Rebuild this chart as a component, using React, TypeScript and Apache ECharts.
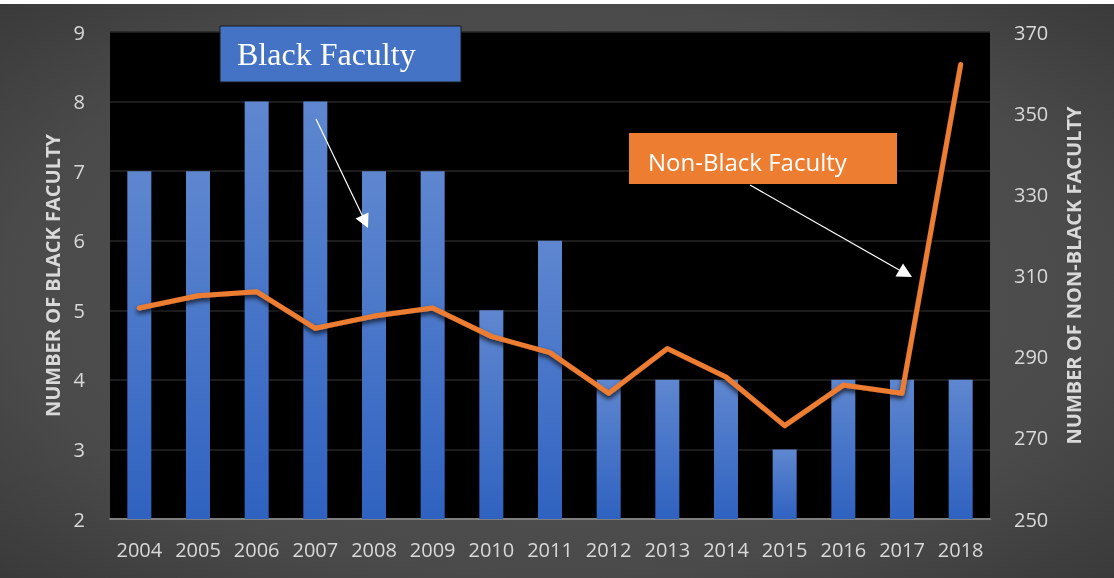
import React, { useEffect, useRef } from "react";
import * as echarts from "echarts";

const years = ["2004", "2005", "2006", "2007", "2008", "2009", "2010", "2011", "2012", "2013", "2014", "2015", "2016", "2017", "2018"];
const blackFaculty = [7, 7, 8, 8, 7, 7, 5, 6, 4, 4, 4, 3, 4, 4, 4];
const nonBlackFaculty = [302, 305, 306, 297, 300, 302, 295, 291, 281, 292, 285, 273, 283, 281, 362];

const LABEL_COLOR = "#d9d9d9";
const FONT = "'Open Sans', 'Noto Sans', sans-serif";

export default function App() {
  const ref = useRef<HTMLDivElement>(null);
  useEffect(() => {
    if (!ref.current) return;
    const chart = echarts.init(ref.current, null, { renderer: "svg" });
    const option: any = {
      animation: false,
      backgroundColor: {
        type: "radial",
        x: 0.5,
        y: 0.5,
        r: 1.1,
        colorStops: [
          { offset: 0, color: "#575757" },
          { offset: 0.45, color: "#4a4a4a" },
          { offset: 0.8, color: "#2c2c2c" },
          { offset: 1, color: "#1c1c1c" },
        ],
      },
      grid: {
        left: 110,
        right: 124,
        top: 32,
        bottom: 59,
        show: true,
        backgroundColor: "#000000",
        borderWidth: 0,
      },
      xAxis: {
        type: "category",
        data: years,
        axisLine: { lineStyle: { color: "#7f7f7f", width: 2 } },
        axisTick: { show: false },
        axisLabel: { color: LABEL_COLOR, fontSize: 20, fontFamily: FONT, margin: 20, interval: 0 },
      },
      yAxis: [
        {
          type: "value",
          position: "left",
          min: 2,
          max: 9,
          interval: 1,
          axisLine: { show: false },
          axisTick: { show: false },
          axisLabel: { color: LABEL_COLOR, fontSize: 20, fontFamily: FONT, margin: 25 },
          splitLine: { lineStyle: { color: "#262626", width: 1.5 } },
          name: "NUMBER OF BLACK FACULTY",
          nameLocation: "middle",
          nameRotate: 90,
          nameGap: 42,
          nameTextStyle: { color: LABEL_COLOR, fontSize: 20, fontWeight: "bold", fontFamily: FONT },
        },
        {
          type: "value",
          position: "right",
          min: 250,
          max: 370,
          interval: 20,
          axisLine: { show: false },
          axisTick: { show: false },
          axisLabel: { color: LABEL_COLOR, fontSize: 20, fontFamily: FONT, margin: 24 },
          splitLine: { show: false },
          name: "NUMBER OF NON-BLACK FACULTY",
          nameLocation: "middle",
          nameRotate: 90,
          nameGap: 73,
          nameTextStyle: { color: LABEL_COLOR, fontSize: 20, fontWeight: "bold", fontFamily: FONT },
        },
      ],
      series: [
        {
          type: "bar",
          data: blackFaculty,
          yAxisIndex: 0,
          barWidth: 24,
          itemStyle: {
            color: new echarts.graphic.LinearGradient(0, 0, 0, 1, [
              { offset: 0, color: "#5f87d0" },
              { offset: 1, color: "#2f62c0" },
            ]),
          },
        },
        {
          type: "line",
          data: nonBlackFaculty,
          yAxisIndex: 1,
          symbol: "none",
          z: 3,
          lineStyle: {
            color: "#ED7D31",
            width: 5,
            cap: "round",
            join: "round",
            shadowColor: "rgba(0,0,0,0.8)",
            shadowBlur: 5,
            shadowOffsetY: 3,
          },
        },
      ],
      graphic: [
        { type: "rect", z: 100, shape: { x: 0, y: 0, width: 1114, height: 4 }, style: { fill: "#ffffff" } },
        {
          type: "rect",
          z: 100,
          shape: { x: 220, y: 26, width: 241, height: 56 },
          style: { fill: "#4472C4", stroke: "#1a1a1a", lineWidth: 1 },
        },
        {
          type: "text",
          z: 101,
          x: 237,
          y: 54,
          style: {
            text: "Black Faculty",
            fill: "#ffffff",
            font: "32px 'Liberation Serif', 'Times New Roman', serif",
            verticalAlign: "middle",
          },
        },
        {
          type: "line",
          z: 100,
          shape: { x1: 316, y1: 119, x2: 363, y2: 217 },
          style: { stroke: "#ffffff", lineWidth: 1.2 },
        },
        {
          type: "polygon",
          z: 100,
          shape: { points: [[368, 228], [355.5, 218.5], [368.5, 212.5]] },
          style: { fill: "#ffffff" },
        },
        {
          type: "rect",
          z: 100,
          shape: { x: 629, y: 133, width: 268, height: 51 },
          style: { fill: "#ED7D31" },
        },
        {
          type: "text",
          z: 101,
          x: 648,
          y: 161,
          style: {
            text: "Non-Black Faculty",
            fill: "#ffffff",
            font: "24px 'Open Sans', sans-serif",
            verticalAlign: "middle",
          },
        },
        {
          type: "line",
          z: 100,
          shape: { x1: 750, y1: 185, x2: 901, y2: 271 },
          style: { stroke: "#ffffff", lineWidth: 1.2 },
        },
        {
          type: "polygon",
          z: 100,
          shape: { points: [[912, 277], [895.5, 276.5], [903, 263.5]] },
          style: { fill: "#ffffff" },
        },
      ],
    };
    chart.setOption(option);
    return () => chart.dispose();
  }, []);
  return (
    <div
      ref={ref}
      style={{ position: "fixed", left: 0, top: 0, width: 1114, height: 578 }}
    />
  );
}
